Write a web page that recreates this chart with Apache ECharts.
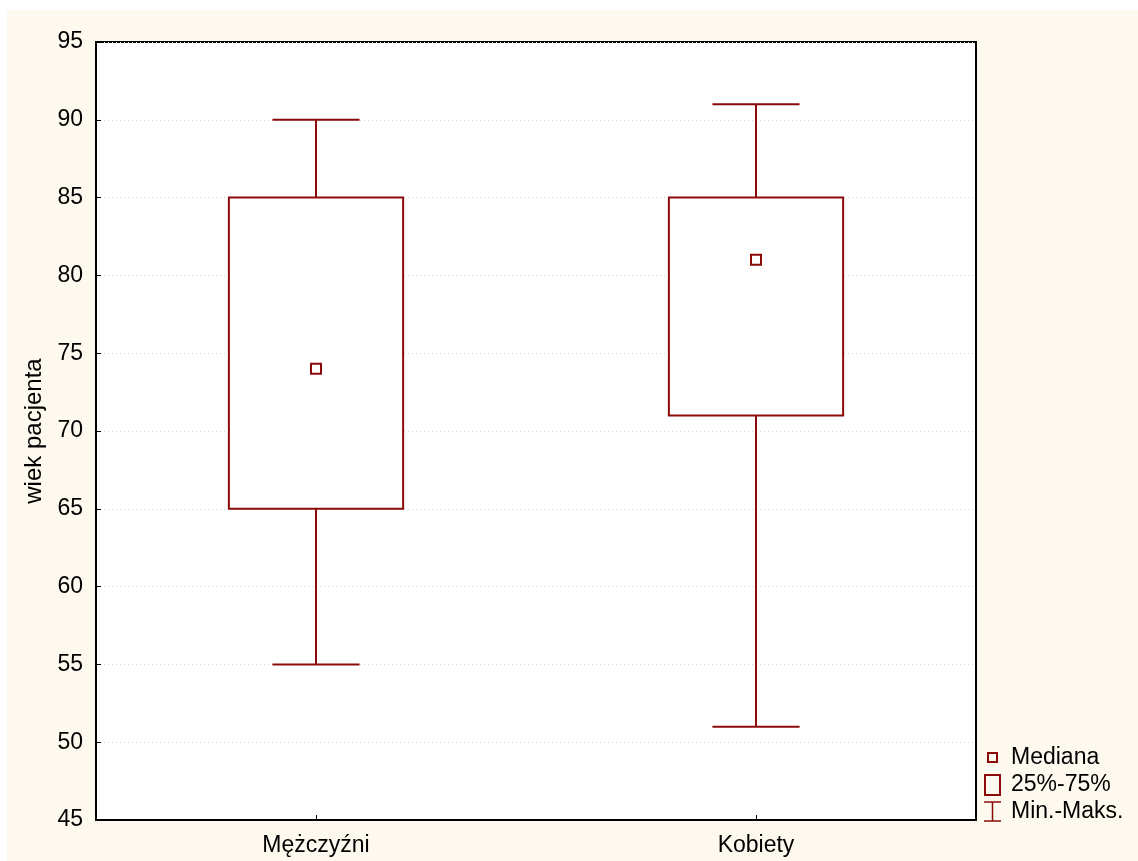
<!DOCTYPE html>
<html>
<head>
<meta charset="utf-8">
<script src="https://cdn.jsdelivr.net/npm/echarts@6/dist/echarts.min.js"></script>
<style>
html,body{margin:0;padding:0;background:#fff;}
#chart{width:1138px;height:861px;}
</style>
</head>
<body>
<div id="chart"></div>
<script>
// Data
const categories = ['Mężczyźni', 'Kobiety'];
const minVals = [55, 51];
const q1Vals = [65, 71];
const medianVals = [74, 81];
const q3Vals = [85, 85];
const maxVals = [90, 91];
const yTicks = { min: 45, max: 95, interval: 5 };
const legendLabels = ['Mediana', '25%-75%', 'Min.-Maks.'];

const RED = '#8b0a0a';
const FONT = "'Liberation Sans', Arial, sans-serif";
const FS = 23;

const boxData = categories.map((c, i) => [i, minVals[i], q1Vals[i], q3Vals[i], maxVals[i]]);
const medData = categories.map((c, i) => [i, medianVals[i]]);

function renderBox(params, api) {
  const idx = api.value(0);
  const pMin = api.coord([idx, api.value(1)]);
  const pQ1 = api.coord([idx, api.value(2)]);
  const pQ3 = api.coord([idx, api.value(3)]);
  const pMax = api.coord([idx, api.value(4)]);
  const band = api.size([1, 0])[0];
  const bw = band * 0.396;
  const cw = band * 0.198;
  const cx = pMin[0];
  const st = { stroke: RED, lineWidth: 2, fill: null };
  return {
    type: 'group',
    children: [
      { type: 'line', shape: { x1: cx, y1: pMax[1], x2: cx, y2: pQ3[1] }, style: st },
      { type: 'line', shape: { x1: cx, y1: pQ1[1], x2: cx, y2: pMin[1] }, style: st },
      { type: 'line', shape: { x1: cx - cw / 2, y1: pMax[1], x2: cx + cw / 2, y2: pMax[1] }, style: st },
      { type: 'line', shape: { x1: cx - cw / 2, y1: pMin[1], x2: cx + cw / 2, y2: pMin[1] }, style: st },
      { type: 'rect', shape: { x: cx - bw / 2, y: pQ3[1], width: bw, height: pQ1[1] - pQ3[1] },
        style: { stroke: RED, lineWidth: 2, fill: '#fff' } }
    ]
  };
}

const chart = echarts.init(document.getElementById('chart'), null, { renderer: 'canvas' });
chart.setOption({
  backgroundColor: '#fff',
  animation: false,
  textStyle: { fontFamily: FONT },
  grid: {
    left: 96, top: 42, right: 162, bottom: 41,
    show: true, backgroundColor: '#fff', borderColor: '#000', borderWidth: 2
  },
  xAxis: {
    type: 'category',
    data: categories,
    boundaryGap: true,
    axisLine: { show: true, lineStyle: { color: '#000', width: 2 } },
    axisTick: { show: true, inside: true, length: 5, alignWithLabel: true, lineStyle: { color: '#000' } },
    axisLabel: { color: '#000', fontSize: FS, fontFamily: FONT, margin: 14 },
    splitLine: { show: false }
  },
  yAxis: {
    type: 'value',
    min: yTicks.min, max: yTicks.max, interval: yTicks.interval,
    name: 'wiek pacjenta',
    nameLocation: 'middle',
    nameGap: 50,
    nameRotate: 90,
    nameTextStyle: { color: '#000', fontSize: 24, fontFamily: FONT },
    axisLine: { show: true, lineStyle: { color: '#000', width: 2 } },
    axisTick: { show: true, inside: true, length: 5, lineStyle: { color: '#000' } },
    axisLabel: { color: '#000', fontSize: FS, fontFamily: FONT, margin: 13 },
    splitLine: { show: true, lineStyle: { color: '#d4d4d4', type: [1, 3], width: 1 } }
  },
  graphic: [
    { type: 'rect', z: -100, silent: true, shape: { x: 7, y: 10, width: 1131, height: 851 }, style: { fill: '#fdf9ee' } },
    { type: 'rect', z: 100, shape: { x: 988, y: 753, width: 9, height: 9 }, style: { stroke: RED, lineWidth: 2, fill: null } },
    { type: 'rect', z: 100, shape: { x: 985, y: 775, width: 15, height: 20 }, style: { stroke: RED, lineWidth: 2, fill: null } },
    { type: 'polyline', z: 100, shape: { points: [[984, 802], [1001, 802]] }, style: { stroke: RED, lineWidth: 1.5, fill: null } },
    { type: 'polyline', z: 100, shape: { points: [[992.5, 802], [992.5, 821]] }, style: { stroke: RED, lineWidth: 1.5, fill: null } },
    { type: 'polyline', z: 100, shape: { points: [[984, 821], [1001, 821]] }, style: { stroke: RED, lineWidth: 1.5, fill: null } },
    { type: 'text', z: 100, x: 1011, y: 758, style: { text: legendLabels[0], fill: '#000', font: FS + 'px ' + FONT, verticalAlign: 'middle' } },
    { type: 'text', z: 100, x: 1011, y: 785, style: { text: legendLabels[1], fill: '#000', font: FS + 'px ' + FONT, verticalAlign: 'middle' } },
    { type: 'text', z: 100, x: 1011, y: 812, style: { text: legendLabels[2], fill: '#000', font: FS + 'px ' + FONT, verticalAlign: 'middle' } }
  ],
  series: [
    {
      name: '25%-75%',
      type: 'custom',
      renderItem: renderBox,
      data: boxData,
      encode: { x: 0, y: [1, 2, 3, 4] },
      z: 2
    },
    {
      name: 'Mediana',
      type: 'scatter',
      data: medData,
      symbol: 'rect',
      symbolSize: 10,
      itemStyle: { color: '#fff', borderColor: RED, borderWidth: 2, opacity: 1 },
      z: 5
    }
  ]
});
</script>
</body>
</html>
